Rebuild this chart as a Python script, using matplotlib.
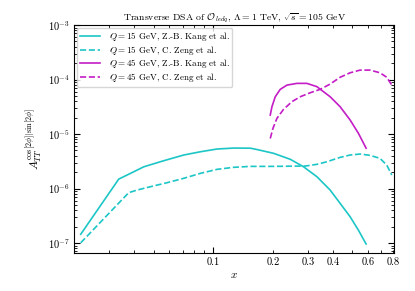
import matplotlib
matplotlib.use("Agg")
import matplotlib.pyplot as plt
from matplotlib.ticker import LogLocator, FixedLocator, FuncFormatter, NullFormatter

plt.rcParams['font.family'] = 'serif'
plt.rcParams['font.serif'] = ['cmr10', 'DejaVu Serif']
plt.rcParams['mathtext.fontset'] = 'cm'
plt.rcParams['axes.formatter.use_mathtext'] = True
plt.rcParams['axes.unicode_minus'] = False

# Data
x_q15_kang = [0.0215, 0.0334, 0.0383, 0.0447, 0.0563, 0.0709, 0.0861, 0.1044, 0.1265, 0.1535,
              0.1658, 0.2009, 0.2438, 0.2843, 0.332, 0.387, 0.4346, 0.488, 0.537, 0.5873]
y_q15_kang = [1.45e-7, 1.49e-6, 1.90e-6, 2.51e-6, 3.24e-6, 4.12e-6, 4.73e-6, 5.31e-6, 5.53e-6, 5.5e-6,
              5.2e-6, 4.43e-6, 3.44e-6, 2.51e-6, 1.65e-6, 9.4e-7, 5.35e-7, 3.04e-7, 1.73e-7, 9.6e-8]

x_q15_zeng = [0.0215, 0.0375, 0.0414, 0.0482, 0.0585, 0.0709, 0.0861, 0.1044, 0.1265, 0.1535,
              0.2009, 0.2915, 0.332, 0.3726, 0.4346, 0.488, 0.548, 0.615, 0.690, 0.746, 0.791]
y_q15_zeng = [1.01e-7, 8.4e-7, 9.4e-7, 1.08e-6, 1.28e-6, 1.54e-6, 1.90e-6, 2.25e-6, 2.45e-6, 2.55e-6,
              2.55e-6, 2.59e-6, 2.78e-6, 3.10e-6, 3.73e-6, 4.12e-6, 4.30e-6, 4.06e-6, 3.58e-6, 2.70e-6, 1.77e-6]

x_q45_kang = [0.1934, 0.1972, 0.2049, 0.2171, 0.2346, 0.2633, 0.2957, 0.3320, 0.3872, 0.4346,
              0.4880, 0.5374, 0.5873]
y_q45_kang = [2.23e-5, 3.17e-5, 4.83e-5, 6.6e-5, 7.9e-5, 8.5e-5, 8.5e-5, 7.4e-5, 4.83e-5, 3.17e-5,
              1.81e-5, 1.03e-5, 5.5e-6]

x_q45_zeng = [0.1934, 0.1995, 0.2089, 0.2256, 0.2485, 0.2736, 0.3072, 0.3449, 0.3872, 0.4346,
              0.488, 0.548, 0.615, 0.690, 0.746, 0.791]
y_q45_zeng = [8.3e-6, 1.27e-5, 1.94e-5, 2.84e-5, 3.92e-5, 4.83e-5, 5.72e-5, 6.6e-5, 8.26e-5, 1.10e-4,
              1.33e-4, 1.49e-4, 1.49e-4, 1.33e-4, 1.10e-4, 7.9e-5]

labels = [r'$Q=15$ GeV, Z.-B. Kang et al.', r'$Q=15$ GeV, C. Zeng et al.',
          r'$Q=45$ GeV, Z.-B. Kang et al.', r'$Q=45$ GeV, C. Zeng et al.']
xtick_vals = [0.1, 0.2, 0.3, 0.4, 0.6, 0.8]

fig = plt.figure(figsize=(4.15, 2.91), dpi=100)
ax = fig.add_axes([0.1795, 0.131, 0.7695, 0.783])

cyan = '#1cc6c6'
mag = '#c41cc6'
ax.plot(x_q15_kang, y_q15_kang, '-', color=cyan, lw=1.2, label=labels[0])
ax.plot(x_q15_zeng, y_q15_zeng, '--', color=cyan, lw=1.2, label=labels[1])
ax.plot(x_q45_kang, y_q45_kang, '-', color=mag, lw=1.2, label=labels[2])
ax.plot(x_q45_zeng, y_q45_zeng, '--', color=mag, lw=1.2, label=labels[3])

ax.set_xscale('log')
ax.set_yscale('log')
ax.set_xlim(0.02, 0.81)
ax.set_ylim(6.6e-8, 1e-3)

ax.xaxis.set_major_locator(FixedLocator([0.1]))
ax.xaxis.set_major_formatter(FuncFormatter(lambda v, p: f'{v:g}'))
ax.xaxis.set_minor_locator(LogLocator(base=10, subs=range(2, 10), numticks=20))
ax.xaxis.set_minor_formatter(FuncFormatter(
    lambda v, p: f'{v:.1f}' if any(abs(v - t) < 1e-6 for t in xtick_vals) else ''))
ax.yaxis.set_major_locator(LogLocator(base=10, numticks=20))
ax.yaxis.set_minor_locator(LogLocator(base=10, subs=range(2, 10), numticks=20))
ax.yaxis.set_minor_formatter(NullFormatter())

ax.tick_params(which='both', direction='in', top=True, right=True, labelsize=7.5)
ax.tick_params(which='major', length=4, width=0.8)
ax.tick_params(which='minor', length=2.2, width=0.6)

ax.set_xlabel(r'$x$', fontsize=8, labelpad=2)
ax.set_ylabel(r'$A_{TT}^{\cos[2\phi]|\sin[2\phi]}$', fontsize=8.5, labelpad=2)
ax.set_title(r'Transverse DSA of $\mathcal{O}_{ledq}$, $\Lambda=1$ TeV, $\sqrt{s}=105$ GeV',
             fontsize=7, pad=3)

ax.legend(loc='upper left', fontsize=6.5, frameon=True, framealpha=0.8,
          borderaxespad=0.3, handlelength=2.2, handletextpad=1.0, labelspacing=0.05,
          borderpad=0.3)

fig.savefig('out.png', dpi=100)
